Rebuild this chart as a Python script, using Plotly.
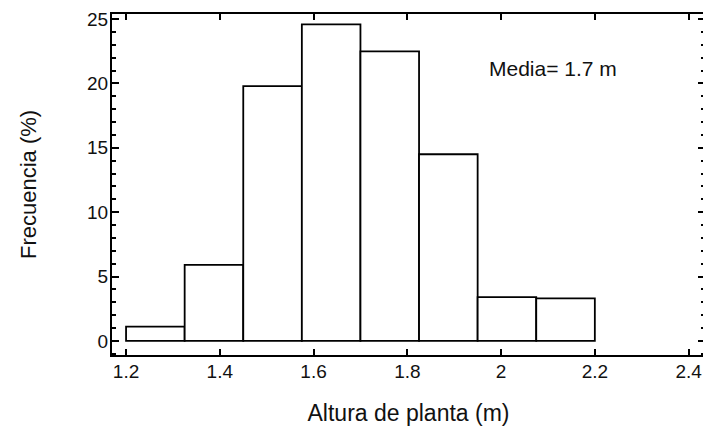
import plotly.graph_objects as go

# ── data ──────────────────────────────────────────────────────────────────────
bin_left = [1.2, 1.325, 1.45, 1.575, 1.7, 1.825, 1.95, 2.075]
bin_width = 0.125
frecuencia = [1.1, 5.9, 19.8, 24.6, 22.5, 14.5, 3.4, 3.3]
x_ticks = [1.2, 1.4, 1.6, 1.8, 2.0, 2.2, 2.4]
x_ticklabels = ["1.2", "1.4", "1.6", "1.8", "2", "2.2", "2.4"]
y_ticks = [0, 5, 10, 15, 20, 25]

# ──────────────────────────────────────────────────────────────────────────────
centers = [b + bin_width / 2 for b in bin_left]

fig = go.Figure(go.Bar(
    x=centers, y=frecuencia, width=bin_width,
    marker=dict(color="white", line=dict(color="black", width=1.8)),
))

# page body has an 8px margin, so the figure is 8px smaller and shifted
fig.update_layout(
    width=703, height=430,
    margin=dict(l=104, r=6, t=6, b=83),
    plot_bgcolor="white", paper_bgcolor="white",
    showlegend=False,
    font=dict(family="Liberation Sans, Arial", size=19, color="#111"),
    annotations=[dict(x=2.11, y=21.2, text="Media= 1.7 m", showarrow=False,
                      font=dict(size=21, color="#111"))],
)
fig.update_xaxes(
    range=[1.17, 2.435], tickvals=x_ticks, ticktext=x_ticklabels,
    ticks="inside", ticklen=6, tickwidth=1.5, tickcolor="black",
    showline=True, linecolor="black", linewidth=2, mirror="ticks",
    showgrid=False, zeroline=False, automargin=False,
    tickfont=dict(size=19), ticklabelstandoff=-2,
    title=dict(text="Altura de planta (m)", font=dict(size=23), standoff=24),
)
fig.update_yaxes(
    range=[-1.1, 25.4], tickvals=y_ticks,
    ticks="inside", ticklen=7, tickwidth=1.5, tickcolor="black",
    minor=dict(dtick=1, ticks="inside", ticklen=4, tickcolor="black"),
    showline=True, linecolor="black", linewidth=2, mirror="ticks",
    showgrid=False, zeroline=False, automargin=False,
    tickfont=dict(size=19), ticklabelstandoff=-2,
    title=dict(text="Frecuencia (%)", font=dict(size=22), standoff=44),
)

fig.write_html("out.html")
